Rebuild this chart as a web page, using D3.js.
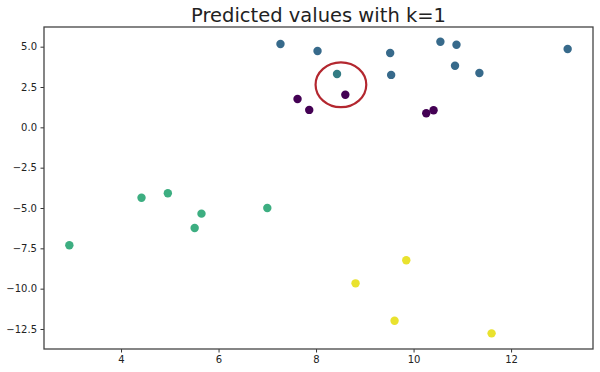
<!DOCTYPE html>
<html>
<head>
<meta charset="utf-8">
<script src="https://cdn.jsdelivr.net/npm/d3@7"></script>
<style>
  body { margin: 0; background: #fff; }
  svg text { font-family: "DejaVu Sans", sans-serif; fill: #222; }
</style>
</head>
<body>
<div id="chart"></div>
<script>
// points, grouped by predicted class
var xValues = [7.27, 8.03, 9.52, 10.55, 10.88, 13.16, 10.85, 11.35, 9.54, 8.43,
               7.62, 7.86, 8.60, 10.26, 10.41,
               2.94, 4.42, 4.96, 5.65, 5.51, 7.00,
               9.85, 8.81, 9.61, 11.60]
var yValues = [5.17, 4.73, 4.61, 5.31, 5.12, 4.86, 3.82, 3.37, 3.25, 3.31,
               1.76, 1.08, 2.02, 0.87, 1.06,
               -7.31, -4.36, -4.09, -5.35, -6.24, -5.00,
               -8.24, -9.67, -11.99, -12.77]
var predicted = [1, 1, 1, 1, 1, 1, 1, 1, 1, 1.2,
                 0, 0, 0, 0, 0,
                 2, 2, 2, 2, 2, 2,
                 3, 3, 3, 3]

var xTicks = [4, 6, 8, 10, 12]
var yTicks = [5.0, 2.5, 0.0, -2.5, -5.0, -7.5, -10.0, -12.5]

// red hand drawn ring, centre and radii in data units
var ringCentre = [8.51, 2.64]
var ringRadius = [0.52, 1.39]

var chartTitle = 'Predicted values with k=1'

var config = {
    'width': 600,
    'height': 372,
    'padding': { 'top': 27, 'right': 7, 'bottom': 23, 'left': 44 }
}

var svg = d3.select('#chart').append('svg')
    .attr('width', config.width)
    .attr('height', config.height)

var xScale = d3.scaleLinear()
    .domain([2.42, 13.68])
    .range([config.padding.left, config.width - config.padding.right])

var yScale = d3.scaleLinear()
    .domain([-13.74, 6.22])
    .range([config.height - config.padding.bottom, config.padding.top])

var colourScale = d3.scaleLinear()
    .domain([0, 1, 1.2, 2, 3])
    .range(['#440154', '#376a8b', '#337c84', '#3dae81', '#e9e22e'])

var fmtY = function(d) { return d3.format('.1f')(d).replace('-', '\u2212') }

// axes
var xAxis = svg.append('g')
    .attr('transform', 'translate(0,' + (config.height - config.padding.bottom) + ')')
    .call(d3.axisBottom(xScale).tickValues(xTicks).tickSize(3.5).tickPadding(3.5).tickSizeOuter(0))
xAxis.select('.domain').remove()

var yAxis = svg.append('g')
    .attr('transform', 'translate(' + config.padding.left + ',0)')
    .call(d3.axisLeft(yScale).tickValues(yTicks).tickSize(3.5).tickPadding(3.5).tickFormat(fmtY).tickSizeOuter(0))
yAxis.select('.domain').remove()

svg.selectAll('.tick text').style('font-size', '10px').style('fill', '#222')
svg.selectAll('.tick line').style('stroke', '#333')

// frame
svg.append('rect')
    .attr('x', config.padding.left)
    .attr('y', config.padding.top)
    .attr('width', config.width - config.padding.left - config.padding.right)
    .attr('height', config.height - config.padding.top - config.padding.bottom)
    .style('fill', 'none')
    .style('stroke', '#444')
    .style('stroke-width', 1.3)

// points
var dataset = xValues.map(function(x, i) {
    return { 'x': x, 'y': yValues[i], 'cls': predicted[i] }
})

svg.append('g')
    .classed('data-layer', true)
    .selectAll('circle')
    .data(dataset)
    .enter()
    .append('circle')
    .attr('cx', d => xScale(d.x))
    .attr('cy', d => yScale(d.y))
    .attr('r', 4.2)
    .style('fill', d => colourScale(d.cls))

// ring
svg.append('ellipse')
    .attr('cx', xScale(ringCentre[0]))
    .attr('cy', yScale(ringCentre[1]))
    .attr('rx', xScale(ringCentre[0] + ringRadius[0]) - xScale(ringCentre[0]))
    .attr('ry', yScale(ringCentre[1] - ringRadius[1]) - yScale(ringCentre[1]))
    .style('fill', 'none')
    .style('stroke', '#b3272f')
    .style('stroke-width', 2.2)

// title
svg.append('text')
    .attr('x', (config.padding.left + config.width - config.padding.right) / 2)
    .attr('y', 22)
    .attr('text-anchor', 'middle')
    .style('font-size', '19.5px')
    .text(chartTitle)
</script>
</body>
</html>
